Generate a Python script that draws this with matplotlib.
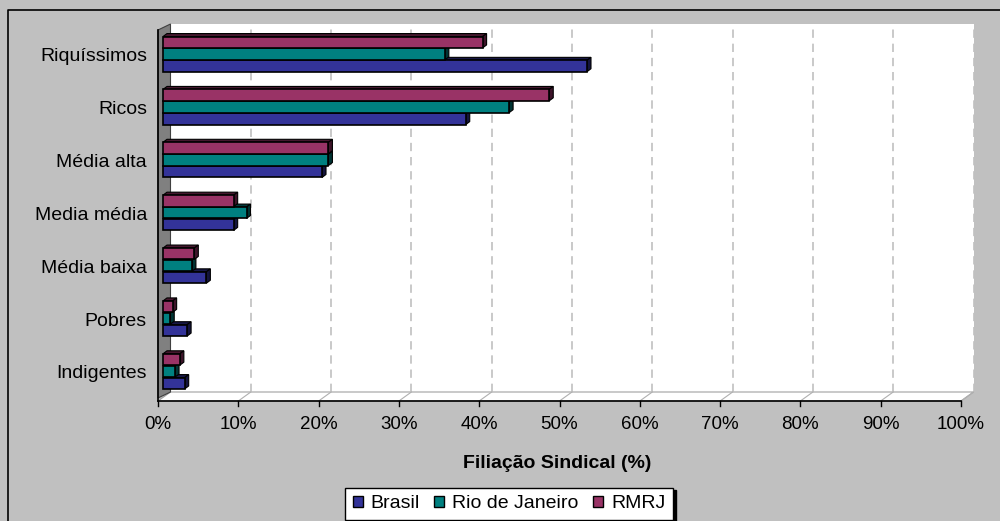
import matplotlib
matplotlib.use("Agg")
import matplotlib.pyplot as plt
from matplotlib.patches import Polygon, Patch
from matplotlib.lines import Line2D
from matplotlib.transforms import IdentityTransform, blended_transform_factory, offset_copy
import numpy as np

# Data: union membership rate (%) by income stratum
categories = ["Indigentes", "Pobres", "Média baixa", "Media média",
              "Média alta", "Ricos", "Riquíssimos"]
brasil = [2.7, 3.0, 5.4, 8.8, 19.8, 37.7, 52.8]
rio_de_janeiro = [1.5, 0.9, 3.6, 10.4, 20.6, 43.1, 35.1]
rmrj = [2.1, 1.2, 3.9, 8.8, 20.6, 48.1, 39.8]
series_names = ["Brasil", "Rio de Janeiro", "RMRJ"]
series_colors = ["#333399", "#008080", "#993366"]
xticks = list(range(0, 101, 10))
xtick_labels = [f"{t}%" for t in xticks]
xlabel = "Filiação Sindical (%)"

plt.rcParams["font.family"] = ["Liberation Sans", "DejaVu Sans"]

W, H = 1000, 521
fig = plt.figure(figsize=(W / 100, H / 100), dpi=100, facecolor="#c0c0c0")
ax = fig.add_axes([163 / W, (H - 392) / H, 803 / W, 368 / H])
ax.set_xlim(0, 100)
ax.set_ylim(-0.39, 6.57)
ax.set_axis_off()

# 3D box geometry (pixel offsets of back and front planes)
BACK_DX = 7.5
FRONT_DX, FRONT_DY = -5, -9
WALL_FRONT_DY = -6
DEPTH_DX, DEPTH_DY = 4, 3

xa = blended_transform_factory(ax.transData, ax.transAxes)
back = offset_copy(xa, fig=fig, x=BACK_DX, y=0, units="dots")
front = offset_copy(xa, fig=fig, x=FRONT_DX, y=FRONT_DY, units="dots")


def to_px(trans, pts):
    return trans.transform(np.asarray(pts, dtype=float))


ident = IdentityTransform()

# back wall
bw = to_px(back, [(0, 0), (100, 0), (100, 1), (0, 1)])
ax.add_patch(Polygon(bw, closed=True, facecolor="white", edgecolor="none",
                     transform=ident, clip_on=False, zorder=0))

# floor
fl = np.vstack([to_px(back, [(0, 0), (100, 0)]), to_px(front, [(100, 0), (0, 0)])])
ax.add_patch(Polygon(fl, closed=True, facecolor="white", edgecolor="#a0a0a0",
                     lw=0.8, transform=ident, clip_on=False, zorder=0.5))

# gridlines on the back wall and their traces on the floor
for v in xticks[1:]:
    g = to_px(back, [(v, 0), (v, 1)])
    ax.add_line(Line2D(g[:, 0], g[:, 1], color="#c0c0c0", lw=1.2,
                       dashes=(5, 3.5), transform=ident, clip_on=False, zorder=1))
    f = np.vstack([to_px(back, [(v, 0)]), to_px(front, [(v, 0)])])
    ax.add_line(Line2D(f[:, 0], f[:, 1], color="#b0b0b0", lw=0.8,
                       transform=ident, clip_on=False, zorder=1))

# left wall
lw_back = to_px(back, [(0, 1), (0, 0)])
lw_front = to_px(offset_copy(xa, fig=fig, x=FRONT_DX, y=WALL_FRONT_DY, units="dots"),
                 [(0, 0), (0, 1)])
ax.add_patch(Polygon(np.vstack([lw_back, lw_front]), closed=True,
                     facecolor="#808080", edgecolor="#404040", lw=0.8,
                     transform=ident, clip_on=False, zorder=1.5))

# front axis line and ticks
ax_line = to_px(front, [(0, 0), (100, 0)])
lft = to_px(front, [(0, 0)])[0]
ax.add_line(Line2D([lft[0], lft[0]], [lw_front[1][1], lft[1]], color="black", lw=1.2,
                   transform=ident, clip_on=False, zorder=2))
ax.add_line(Line2D(ax_line[:, 0], ax_line[:, 1], color="black", lw=1.2,
                   transform=ident, clip_on=False, zorder=2))
for v, lab in zip(xticks, xtick_labels):
    p = to_px(front, [(v, 0)])[0]
    ax.add_line(Line2D([p[0], p[0]], [p[1], p[1] - 5], color="black", lw=1.0,
                       transform=ident, clip_on=False, zorder=2))
    ax.text(p[0], p[1] - 23.5, lab, transform=ident, ha="center", va="center",
            fontsize=13.5, color="black")

# category labels
lab_tr = offset_copy(blended_transform_factory(ax.transAxes, ax.transData),
                     fig=fig, x=-16, y=-2.5, units="dots")
for i, c in enumerate(categories):
    ax.text(0, i, c, transform=lab_tr, ha="right", va="center", fontsize=14)


def darker(hexcol, f):
    r, g, b = matplotlib.colors.to_rgb(hexcol)
    return (r * f, g * f, b * f)


# bars with shaded top and side faces
bar_h = 0.215
offsets = [-0.225, 0.0, 0.225]
y = np.arange(len(categories))
for k, (vals, col, off) in enumerate(zip([brasil, rio_de_janeiro, rmrj],
                                         series_colors, offsets)):
    for yi, v in zip(y + off, vals):
        (x0, yb), (x1, yt) = ax.transData.transform([(0, yi - bar_h / 2),
                                                     (v, yi + bar_h / 2)])
        top = [(x0, yt), (x1, yt), (x1 + DEPTH_DX, yt + DEPTH_DY), (x0 + DEPTH_DX, yt + DEPTH_DY)]
        side = [(x1, yb), (x1, yt), (x1 + DEPTH_DX, yt + DEPTH_DY), (x1 + DEPTH_DX, yb + DEPTH_DY)]
        ax.add_patch(Polygon(top, closed=True, facecolor=darker(col, 0.45), edgecolor="black",
                             lw=0.8, transform=ident, clip_on=False, zorder=3 + 2 * k))
        ax.add_patch(Polygon(side, closed=True, facecolor=darker(col, 0.4), edgecolor="black",
                             lw=0.8, transform=ident, clip_on=False, zorder=3 + 2 * k))
    ax.barh(y + off, vals, height=bar_h, color=col, edgecolor="black", lw=1.2,
            zorder=4 + 2 * k, clip_on=False)

# axis title
fig.text(557 / W, 1 - 463 / H, xlabel, ha="center", va="center",
         fontsize=14, fontweight="bold")

# legend
handles = [Patch(facecolor=c, edgecolor="black", lw=1.0) for c in series_colors]
fig.legend(handles, series_names, loc="upper center",
           bbox_to_anchor=(509 / W, 1 - 487.5 / H), ncol=3, fontsize=14,
           frameon=True, fancybox=False, edgecolor="black", framealpha=1,
           handlelength=0.52, handleheight=0.52, handletextpad=0.4,
           columnspacing=0.75, borderpad=0.4, borderaxespad=0,
           shadow={"color": "black", "alpha": 1})

# outer chart border
fig.add_artist(Line2D([8, 8, W], [0, H - 10, H - 10], color="black", lw=1.2,
                      transform=ident))

fig.savefig("out.png", dpi=100, facecolor=fig.get_facecolor())
